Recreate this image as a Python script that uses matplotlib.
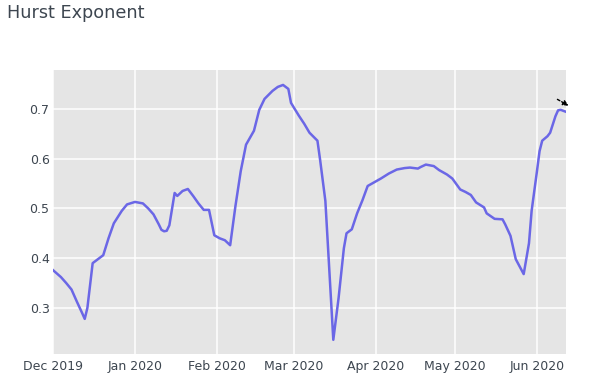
import matplotlib
matplotlib.use("Agg")
import matplotlib.pyplot as plt
import matplotlib.dates as mdates
import pandas as pd

dates = [
    "2019-12-01", "2019-12-04", "2019-12-06", "2019-12-08", "2019-12-10", "2019-12-12",
    "2019-12-13", "2019-12-14", "2019-12-16", "2019-12-18", "2019-12-20", "2019-12-22",
    "2019-12-24", "2019-12-27", "2019-12-29", "2020-01-01", "2020-01-04", "2020-01-06",
    "2020-01-08", "2020-01-10", "2020-01-11", "2020-01-12", "2020-01-13", "2020-01-14",
    "2020-01-16", "2020-01-17", "2020-01-19", "2020-01-21", "2020-01-23", "2020-01-25",
    "2020-01-27", "2020-01-29", "2020-01-31", "2020-02-02", "2020-02-04", "2020-02-06",
    "2020-02-08", "2020-02-10", "2020-02-12", "2020-02-15", "2020-02-17", "2020-02-19",
    "2020-02-22", "2020-02-24", "2020-02-26", "2020-02-28", "2020-02-29", "2020-03-03",
    "2020-03-05", "2020-03-07", "2020-03-10", "2020-03-11", "2020-03-13", "2020-03-16",
    "2020-03-18", "2020-03-20", "2020-03-21", "2020-03-23", "2020-03-25", "2020-03-27",
    "2020-03-29", "2020-03-31", "2020-04-03", "2020-04-06", "2020-04-09", "2020-04-12",
    "2020-04-14", "2020-04-17", "2020-04-18", "2020-04-20", "2020-04-23", "2020-04-25",
    "2020-04-28", "2020-04-30", "2020-05-03", "2020-05-05", "2020-05-07", "2020-05-09",
    "2020-05-12", "2020-05-13", "2020-05-16", "2020-05-19", "2020-05-20", "2020-05-22",
    "2020-05-24", "2020-05-27", "2020-05-29", "2020-05-30", "2020-06-01", "2020-06-02",
    "2020-06-03", "2020-06-05", "2020-06-06", "2020-06-08", "2020-06-09", "2020-06-10",
    "2020-06-12",
]
hurst = [
    0.376, 0.362, 0.350, 0.337, 0.313, 0.290,
    0.278, 0.300, 0.390, 0.398, 0.406, 0.440,
    0.470, 0.495, 0.508, 0.513, 0.510, 0.500,
    0.488, 0.468, 0.457, 0.454, 0.455, 0.466,
    0.531, 0.525, 0.535, 0.539, 0.525, 0.510,
    0.497, 0.497, 0.446, 0.440, 0.436, 0.426,
    0.505, 0.575, 0.628, 0.656, 0.698, 0.720,
    0.736, 0.744, 0.748, 0.740, 0.712, 0.686,
    0.670, 0.652, 0.636, 0.598, 0.515, 0.236,
    0.320, 0.420, 0.450, 0.458, 0.490, 0.516,
    0.545, 0.551, 0.560, 0.570, 0.578, 0.581,
    0.582, 0.580, 0.583, 0.588, 0.585, 0.577,
    0.568, 0.560, 0.538, 0.533, 0.527, 0.512,
    0.502, 0.490, 0.479, 0.478, 0.468, 0.445,
    0.398, 0.368, 0.430, 0.495, 0.574, 0.615,
    0.636, 0.645, 0.652, 0.685, 0.697, 0.698,
    0.694,
]
title = "Hurst Exponent"
y_ticks = [0.3, 0.4, 0.5, 0.6, 0.7]
x_ticks = ["2019-12-01", "2020-01-01", "2020-02-01", "2020-03-01",
           "2020-04-01", "2020-05-01", "2020-06-01"]

x = pd.to_datetime(dates)
text_color = "#3d4650"

fig = plt.figure(figsize=(6, 3.9), dpi=100)
ax = fig.add_axes([53 / 600, 1 - 354 / 390, (566 - 53) / 600, (354 - 70) / 390])
ax.set_facecolor("#e5e5e5")
ax.plot(x, hurst, color="#6b67e6", lw=1.8, solid_joinstyle="round", zorder=3)

ax.set_xlim(x[0], x[-1])
ax.set_ylim(0.2075, 0.778)
ax.set_yticks(y_ticks)
ax.set_yticklabels([f"{v:.1f}" for v in y_ticks])
ax.set_xticks(pd.to_datetime(x_ticks))
ax.xaxis.set_major_formatter(mdates.DateFormatter("%b %Y"))
ax.grid(True, color="white", lw=1.1, zorder=1)
ax.set_axisbelow(True)
for s in ax.spines.values():
    s.set_visible(False)
ax.tick_params(length=0, labelsize=9, labelcolor=text_color)
ax.tick_params(axis="x", pad=4)
ax.tick_params(axis="y", pad=2.5)
for lbl in ax.get_xticklabels() + ax.get_yticklabels():
    lbl.set_fontfamily("DejaVu Sans")

fig.text(7 / 600, 1 - 13 / 390, title, fontsize=12.7, color=text_color,
         family="DejaVu Sans", va="center", ha="left")

# small cursor-like arrow in the top-right corner
ax.annotate("", xy=(571, 390 - 107), xytext=(555, 390 - 98),
            xycoords="figure pixels", textcoords="figure pixels",
            arrowprops=dict(arrowstyle="-|>", color="black", lw=1,
                            linestyle=(0, (2, 1.5)), mutation_scale=8),
            annotation_clip=False)

fig.savefig("out.png", dpi=100, facecolor="white")
